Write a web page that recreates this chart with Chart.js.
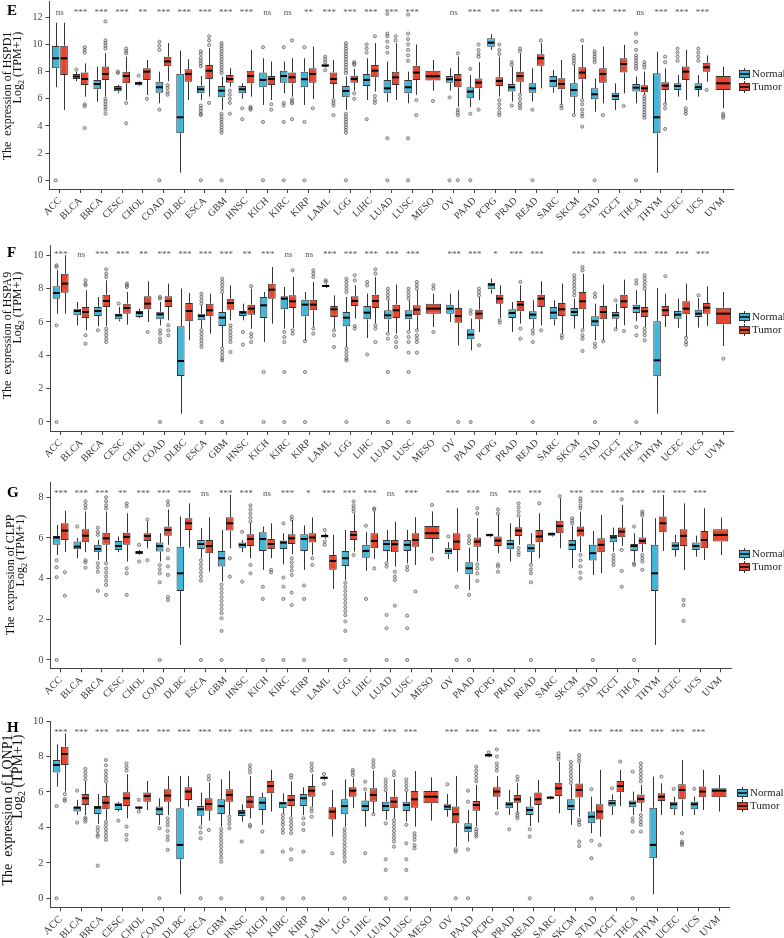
<!DOCTYPE html>
<html>
<head>
<meta charset="utf-8">
<title>HSPD1 / HSPA9 / CLPP / LONP1 expression, normal vs tumor</title>
<script src="https://cdn.jsdelivr.net/npm/chart.js@4.4.0/dist/chart.umd.min.js"></script>
<style>
  body { margin: 0; background: #fff; overflow: hidden; }
  .panel { position: absolute; left: 0; }
  canvas { display: block; }
</style>
</head>
<body>
<div class="panel" style="top:0px"><canvas id="chartE" width="784" height="232"></canvas></div>
<div class="panel" style="top:232px"><canvas id="chartF" width="784" height="233"></canvas></div>
<div class="panel" style="top:465px"><canvas id="chartG" width="784" height="235"></canvas></div>
<div class="panel" style="top:700px"><canvas id="chartH" width="784" height="238"></canvas></div>
<script>
const cancers = ['ACC','BLCA','BRCA','CESC','CHOL','COAD','DLBC','ESCA','GBM','HNSC','KICH','KIRC','KIRP','LAML','LGG','LIHC','LUAD','LUSC','MESO','OV','PAAD','PCPG','PRAD','READ','SARC','SKCM','STAD','TGCT','THCA','THYM','UCEC','UCS','UVM'];

// each box: [min, q1, median, q3, max] in log2(TPM+1); null = no samples
const hspd1Normal = [
  [6.85,8.25,8.98,9.89,11.6],[7.3,7.46,7.64,7.83,8.0],[5.79,6.7,7.09,7.39,8.37],[6.4,6.55,6.75,6.94,7.02],[6.94,7.0,7.14,7.26,7.31],[5.67,6.45,6.85,7.26,8.0],
  [0.56,3.46,4.64,7.85,9.55],[5.91,6.4,6.7,6.97,7.68],[5.18,6.11,6.6,6.94,7.63],[6.0,6.4,6.7,6.94,7.14],[5.55,6.85,7.39,7.93,8.98],[6.4,7.19,7.68,8.07,8.74],
  [5.55,6.85,7.44,8.0,8.98],[8.3,8.37,8.44,8.54,8.6],[5.18,6.11,6.58,6.94,7.63],[5.91,6.94,7.39,7.83,8.98],[5.79,6.4,6.77,7.39,8.74],[5.67,6.4,6.85,7.39,8.0],
  null,[6.6,7.19,7.44,7.68,8.25],[5.4,6.04,6.53,6.85,7.75],[9.6,9.84,10.13,10.45,10.75],[5.8,6.53,6.85,7.09,8.37],[5.8,6.45,6.77,7.14,8.25],
  [6.45,6.85,7.31,7.68,8.12],[4.93,6.16,6.65,7.14,8.5],[5.05,5.96,6.33,6.77,7.5],[5.18,5.91,6.21,6.45,7.14],[5.67,6.53,6.82,7.09,7.63],[0.56,3.46,4.64,7.88,9.47],
  [6.16,6.65,6.94,7.14,7.75],[6.16,6.65,6.85,7.14,7.75],null
];
const hspd1Tumor = [
  [5.18,7.75,8.98,9.91,11.6],[6.16,7.02,7.46,7.93,8.61],[6.16,7.39,7.83,8.37,9.35],[5.91,7.14,7.68,8.0,9.1],[6.28,7.39,8.0,8.25,8.86],[7.3,8.4,8.75,9.1,10.1],
  [5.91,7.26,7.83,8.17,8.91],[6.16,7.46,8.07,8.49,9.72],[6.9,7.19,7.46,7.75,8.25],[6.16,7.14,7.68,8.07,9.6],[5.91,7.02,7.46,7.68,8.74],[6.16,7.14,7.58,7.93,8.98],
  [5.99,7.19,7.83,8.25,9.84],[6.04,7.09,7.46,7.93,8.86],[6.6,7.19,7.46,7.7,8.2],[6.53,7.58,8.07,8.49,10.1],[5.91,7.02,7.58,8.0,10.1],[6.3,7.39,7.93,8.44,10.0],
  [6.6,7.34,7.66,8.07,8.86],[5.42,6.85,7.39,7.83,9.1],[5.9,6.77,7.19,7.5,8.7],[6.16,6.95,7.31,7.58,9.1],[6.4,7.26,7.68,8.0,9.35],[6.77,8.44,8.98,9.28,10.1],
  [5.55,6.7,7.09,7.51,8.86],[6.04,7.44,7.93,8.32,9.96],[5.67,7.19,7.83,8.25,9.84],[6.4,7.93,8.56,8.98,9.96],[6.28,6.48,6.77,7.0,8.0],[5.67,6.65,6.97,7.21,8.25],
  [5.9,7.39,8.0,8.37,9.6],[7.26,8.0,8.32,8.66,9.2],[5.3,6.65,7.14,7.68,8.37]
];
const hspd1NormalOut = [
  [0],[8.15],[],[7.9,8.0],[7.7],[10.2,9.9,9.6,5.2,0],
  [],[9.5,9.3,9.0,8.8,8.6,8.4,5.5,5.3,5.1,4.9,4.8,0],[10.1,9.9,9.7,9.5,9.3,9.1,8.9,8.7,8.5,8.3,8.1,7.9,4.9,4.7,4.5,4.3,4.1,3.9,3.7,3.5,0],[5.3,4.5],[9.8,4.3,0],[9.8,5.7,5.5,4.3,0],
  [9.8,4.3,0],[9.1,8.9,8.7,8.1],[10.1,9.9,9.7,9.5,9.3,9.1,8.9,8.7,8.5,8.3,8.1,7.9,4.9,4.7,4.5,4.3,4.1,3.9,3.7,3.5,0],[10.0,9.7,9.4,4.5],[12.25,10.8,10.6,10.2,9.8,9.4,3.1,0],[12.2,10.8,10.4,10.0,9.6,9.2,8.8,3.1,0],
  [],[6.1,0],[8.2,4.9,0],[],[8.7,8.5,5.5],[5.2,0],
  [],[9.2,9.0,8.8,8.6,4.8],[9.5,9.3,9.1,8.9,8.7,0],[],[10.8,10.2,9.6,9.2,9.0,8.8,8.6,8.4,8.2,0],[],
  [9.7,9.4,9.1,8.8],[9.7,9.4,9.1,8.8],[]
];
const hspd1TumorOut = [
  [],[9.8,9.6,9.4,5.6,5.45,3.85],[11.7,10.3,10.1,9.9,9.7,6.0,5.8,5.6,5.4,5.2,4.9],[9.7,9.5,9.35,5.7,4.2],[6.0],[7.0,6.8,6.5,6.3],
  [],[10.6,10.3,9.96,5.7],[6.6,6.3,6.0,5.7,4.9],[5.4,5.3,5.2],[5.6,5.2],[10.3,5.96,5.8,5.67,4.5],
  [5.3],[5.9,5.7,5.5,4.8],[8.7,8.6,8.5,6.4,6.0],[10.6,6.2,5.9,5.7],[10.6,10.3],[5.9,4.8],
  [5.84],[9.35,5.2,5.0,4.8,0],[10.0,9.6,9.3,9.1,5.2],[10.0,9.6,9.3,5.9,5.6,5.3,5.0,4.8],[9.7,9.5,6.3,6.0,5.7,5.5,5.3],[10.3],
  [5.5,5.3],[10.3,5.9,5.6,5.2,4.9,4.7,3.95],[4.8],[5.47],[8.7,8.5,8.3,6.2,6.0,5.8,5.6,5.4,5.2,5.0,4.8,4.6],[9.1,8.7,5.6,5.3,3.78],
  [5.3,5.1,4.9],[6.65],[4.9,4.75,4.6]
];
const hspd1Sig = ['ns','***','***','***','**','***','***','***','***','***','ns','ns','**','***','***','***','***','***','','ns','***','**','***','***','','***','***','***','ns','***','***','***',''];

const hspa9Normal = [
  [6.5,7.4,7.74,8.14,9.1],[5.8,6.4,6.66,6.8,7.2],[5.74,6.36,6.66,6.9,7.5],[6.04,6.16,6.4,6.5,6.9],[6.24,6.3,6.54,6.66,6.8],[5.8,6.16,6.46,6.62,7.2],
  [0.5,2.76,3.66,5.74,8.0],[5.6,6.1,6.36,6.5,7.0],[4.5,5.76,6.26,6.6,7.7],[6.1,6.36,6.56,6.66,7.1],[4.8,6.24,7.0,7.5,7.8],[5.6,6.76,7.4,7.54,8.1],
  [4.9,6.34,7.04,7.34,7.8],[8.04,8.1,8.16,8.24,8.3],[4.5,5.74,6.26,6.6,7.5],[5.04,6.16,6.56,6.96,7.7],[5.4,6.16,6.4,6.7,7.3],[5.5,6.16,6.4,6.7,7.3],
  null,[6.0,6.5,6.8,7.04,7.7],[4.3,4.96,5.24,5.56,6.2],[7.7,7.96,8.24,8.36,8.6],[5.4,6.24,6.54,6.76,7.2],[5.6,6.16,6.44,6.64,7.3],
  [5.8,6.16,6.56,6.9,7.3],[5.6,6.36,6.6,6.84,7.4],[4.9,5.74,6.04,6.34,7.1],[5.6,6.2,6.4,6.6,7.1],[6.04,6.54,6.84,7.04,7.9],[0.5,2.74,3.7,6.04,8.04],
  [5.64,6.2,6.44,6.66,7.4],[5.66,6.3,6.5,6.74,7.44],null
];
const hspa9Tumor = [
  [6.5,7.76,8.3,8.9,10.0],[5.5,6.24,6.6,6.9,7.9],[5.76,6.9,7.26,7.64,8.5],[5.84,6.5,6.84,7.1,7.8],[6.0,6.76,7.1,7.54,8.44],[6.1,6.9,7.26,7.54,8.3],
  [4.9,6.04,6.66,7.14,7.74],[5.3,6.34,6.7,7.1,7.7],[6.1,6.74,7.14,7.4,8.2],[5.6,6.44,6.8,7.04,8.0],[5.9,7.4,7.94,8.3,9.3],[5.64,6.84,7.24,7.6,8.7],
  [5.7,6.7,7.04,7.34,8.4],[5.6,6.3,6.76,6.96,7.6],[6.2,6.96,7.26,7.54,8.2],[5.9,6.84,7.26,7.64,8.7],[5.3,6.24,6.7,7.04,8.24],[5.56,6.4,6.74,7.0,7.9],
  [5.7,6.5,6.8,7.1,7.7],[4.6,5.96,6.36,6.84,7.9],[5.4,6.16,6.5,6.74,7.5],[6.24,7.1,7.4,7.64,8.2],[5.9,6.64,7.04,7.26,8.2],[5.8,6.9,7.4,7.64,8.44],
  [5.3,6.36,6.76,7.14,8.3],[5.6,6.76,7.24,7.8,8.9],[4.9,6.16,6.6,6.96,8.24],[5.8,6.84,7.24,7.64,8.54],[5.7,6.3,6.64,6.9,7.9],[5.7,6.36,6.7,6.96,7.7],
  [5.1,6.46,6.8,7.24,8.3],[5.76,6.5,6.86,7.14,8.14],[4.56,5.86,6.5,6.86,7.8]
];
const hspa9NormalOut = [
  [9.4,9.3,5.8,0],[],[5.5],[7.1],[],[7.5,7.4,5.5,5.3,5.0,4.8,0],
  [],[7.7,7.5,7.3,7.1,5.5,5.3,5.1,4.9,4.7,4.5,0],[8.6,8.4,8.2,8.0,7.8,4.4,4.2,4.0,3.8,3.7,0],[5.4,4.64],[3.0,0],[5.4,5.1,4.8,3.0,0],
  [4.85,3.0,0],[8.5,8.4],[8.6,8.4,8.2,8.0,7.8,4.4,4.2,4.0,3.8,3.7,0],[8.4,8.2,4.05],[8.0,7.8,7.6,7.4,5.3,5.0,3.0,0],[8.0,7.8,7.6,7.4,5.4,5.1,4.8,4.16,3.0,0],
  [],[],[6.7,6.5,0],[],[],[5.5,5.3,4.8,0],
  [],[8.8,8.6,8.4,8.2,8.0,7.8,7.6],[7.7,7.5,4.7,4.5,0],[7.3,5.56],[8.5,8.3,5.7,5.2,0],[],
  [],[7.6],[]
];
const hspa9TumorOut = [
  [],[8.5,8.3,8.2,5.2,4.7],[9.16,8.9,8.7,5.6,5.4,5.2,5.0,4.8],[8.3,8.2,8.1],[5.4],[5.8,5.5,5.2],
  [],[],[5.8,5.6,5.4,5.2,5.0,4.8,4.2],[8.15,5.3,5.1,4.8],[],[9.1,5.5,5.3],
  [9.1,8.9,8.7,5.6,5.3],[5.5,5.2,4.5],[8.8,8.5,5.76,5.6],[9.16,8.9,5.8,5.6,4.8],[5.1,4.8,4.5],[8.4,8.2,8.0,5.5,5.2,5.0,4.8,4.16],
  [8.2,8.0,5.4],[0],[8.0,7.8,7.6,4.6],[6.1,5.96],[8.4,5.6,5.0],[5.5],
  [5.2,5.04],[9.3,9.1,5.5,5.2,5.0,4.26],[4.84],[5.46],[8.8,8.6,8.4,8.2,8.0,5.6,5.4,5.2,4.9],[8.74],
  [5.04,4.8,4.64],[],[3.8]
];
const hspa9Sig = ['***','ns','***','***','**','***','***','***','***','**','***','ns','ns','***','***','***','***','***','','***','***','*','***','***','','***','***','***','***','***','***','***',''];

const clppNormal = [
  [5.16,5.66,6.02,6.1,6.64],[5.0,5.44,5.57,5.82,6.0],[4.92,5.3,5.46,5.66,5.9],[5.3,5.41,5.6,5.85,6.07],[5.16,5.2,5.28,5.36,5.41],[4.84,5.33,5.6,5.77,6.23],
  [0.74,3.39,4.26,5.57,7.05],[5.0,5.46,5.7,5.9,6.48],[3.85,4.59,5.0,5.36,6.39],[5.3,5.52,5.66,5.77,5.9],[4.43,5.36,5.95,6.28,6.56],[4.7,5.46,5.77,5.87,6.23],
  [4.43,5.36,5.95,6.18,6.61],[5.95,6.02,6.1,6.15,6.23],[3.93,4.62,5.0,5.36,6.39],[4.38,5.03,5.36,5.66,6.3],[4.84,5.36,5.7,5.9,6.39],[4.75,5.36,5.66,5.9,6.39],
  null,[4.97,5.2,5.36,5.49,5.79],[3.44,4.21,4.51,4.8,5.52],[6.02,6.07,6.15,6.18,6.2],[4.84,5.44,5.7,5.9,6.72],[4.75,5.3,5.49,5.69,6.23],
  [6.07,6.11,6.2,6.26,6.28],[4.51,5.41,5.66,5.9,6.6],[4.18,4.89,5.25,5.66,6.34],[5.33,5.79,6.03,6.15,6.51],[4.84,5.36,5.6,5.7,6.23],[0.74,3.39,4.26,5.66,6.97],
  [5.08,5.41,5.62,5.79,6.15],[5.08,5.41,5.6,5.77,6.11],null
];
const clppTumor = [
  [5.3,5.9,6.36,6.72,7.33],[5.3,5.79,6.11,6.43,7.3],[4.84,5.66,5.98,6.26,7.3],[4.84,5.66,6.05,6.26,7.21],[5.49,5.85,6.1,6.23,6.8],[5.66,6.11,6.39,6.56,7.4],
  [5.52,6.39,6.72,6.97,7.7],[4.34,5.25,5.6,5.9,7.02],[5.49,6.36,6.72,7.02,8.11],[5.0,5.6,5.95,6.18,6.75],[5.0,5.46,5.7,5.95,6.72],[5.2,5.7,5.98,6.18,6.88],
  [5.16,5.77,6.02,6.23,7.0],[3.49,4.43,4.87,5.16,6.15],[5.33,5.9,6.15,6.34,7.2],[4.97,5.49,5.85,6.23,7.3],[4.59,5.3,5.69,5.9,6.8],[4.67,5.57,5.9,6.23,7.02],
  [5.25,5.95,6.23,6.59,7.3],[4.34,5.41,5.82,6.23,7.46],[4.84,5.57,5.82,6.02,6.97],[5.25,5.6,5.87,6.07,7.13],[5.66,6.1,6.36,6.52,7.0],[5.0,5.79,6.07,6.39,7.21],
  [5.49,6.23,6.59,6.85,7.95],[5.3,6.07,6.36,6.56,7.3],[4.26,5.3,5.66,5.98,7.13],[5.6,6.03,6.31,6.51,7.62],[5.3,5.69,5.85,6.02,6.97],[5.36,6.28,6.72,7.05,8.11],
  [4.43,5.6,6.1,6.43,7.7],[4.92,5.49,5.9,6.34,7.46],[5.16,5.82,6.15,6.43,7.0]
];
const clppNormalOut = [
  [4.9,4.56,4.07,0],[6.56],[6.5,6.3,6.15,4.75,4.55,4.34,3.4],[],[5.66,4.84],[4.67,4.45,4.26,3.82,0],
  [],[4.9,4.7,4.5,4.3,4.1,3.9,0],[3.7,3.5,3.3,3.1,2.9,2.7,2.5,2.3,2.05,1.43,0],[6.3,3.85],[3.6,3.0,0],[6.72,4.05,3.6,3.0,0],
  [3.66,3.0,0],[6.39,5.82,5.66],[3.8,3.6,3.4,3.2,3.0,2.8,2.6,2.4,2.2,1.9,1.43,0],[6.6,3.0],[4.75,4.59,2.21,1.56,0],[4.59,4.43,2.18,1.56,0],
  [],[6.07],[6.1,5.9,5.74,3.2,0],[],[],[4.67,4.45,4.26,3.82,0],
  [],[6.97,6.85,6.72],[0],[5.16,5.0,4.84,4.67],[6.56,4.75,4.67,0],[],
  [],[],[]
];
const clppTumorOut = [
  [4.31,3.16],[7.8,7.62,7.46,4.9,4.8,4.54],[8.0,7.8,7.6,7.45,4.75,4.5,4.3,4.1,3.9,3.69,3.2],[7.7,7.55,4.5,4.26,3.2],[6.9,4.9],[7.8,7.62,5.41,5.0,4.6,4.18,3.1,2.95],
  [],[],[5.0,4.1],[7.6,7.4,7.2,7.0,6.8,4.67,4.26],[4.43,4.31],[7.05,6.9,5.0,4.8,4.6,4.4,4.18,3.31,2.7],
  [5.0,4.67],[],[7.8,7.6,7.45,7.3,5.16],[7.46,7.38,4.5],[4.34,4.1,3.93,2.67],[3.36],
  [7.62,4.97],[3.6,0],[7.46,7.21,4.7,4.5,4.26,3.89],[7.4,7.2,4.7,4.59,4.34],[7.7,7.5,7.3,7.1,5.5,5.3,5.16],[7.7],
  [8.05],[7.95,7.8,7.6,7.46,5.16,4.9,4.6,4.3,4.02],[],[7.9,5.41,4.38,3.6],[7.3,7.2,7.1,5.16,5.0,4.84,4.43],[],
  [2.95,2.7,1.92],[],[]
];
const clppSig = ['***','***','***','**','***','***','***','ns','***','***','ns','***','*','***','***','***','ns','***','','***','***','ns','***','***','','***','***','***','***','***','***','***',''];

const lonp1Normal = [
  [6.3,7.09,7.52,7.8,8.68],[4.7,4.89,5.11,5.17,5.55],[4.19,4.76,5.11,5.2,5.88],[4.89,4.98,5.26,5.36,5.45],[4.98,5.06,5.11,5.17,5.2],[4.14,4.7,5.02,5.17,5.64],
  [0.23,2.2,3.01,5.08,6.9],[4.14,4.66,5.02,5.2,5.96],[4.04,4.76,5.2,5.58,6.71],[4.32,4.64,4.83,4.98,5.3],[4.14,4.98,5.39,5.7,5.96],[4.79,5.08,5.36,5.45,5.92],
  [4.7,5.2,5.64,5.88,6.26],[6.64,6.71,6.8,6.86,6.9],[4.04,4.74,5.2,5.58,6.71],[4.04,4.92,5.2,5.51,6.0],[4.42,4.92,5.2,5.45,6.0],[4.32,4.92,5.26,5.45,6.0],
  null,[4.6,4.98,5.17,5.3,5.88],[3.2,3.72,3.98,4.23,4.98],[7.95,7.99,8.08,8.14,8.18],[4.7,5.08,5.3,5.45,6.1],[4.08,4.7,4.98,5.17,5.73],
  [5.58,5.62,5.68,5.73,5.76],[4.14,4.98,5.2,5.58,6.4],[3.67,4.23,4.6,4.89,5.73],[4.7,5.17,5.36,5.55,5.86],[4.7,5.13,5.36,5.51,6.02],[0.23,2.26,3.01,5.11,6.86],
  [4.7,5.02,5.3,5.45,5.73],[4.7,5.02,5.3,5.45,5.73],null
];
const lonp1Tumor = [
  [6.02,7.52,8.14,8.55,9.3],[4.7,5.26,5.64,5.88,6.6],[4.42,5.02,5.39,5.77,6.48],[4.51,5.2,5.64,5.98,7.0],[4.98,5.45,5.77,5.96,6.62],[4.7,5.45,5.79,6.15,6.9],
  [5.17,5.55,6.02,6.26,6.9],[4.38,4.94,5.32,5.64,6.52],[4.7,5.45,5.83,6.15,7.18],[4.51,5.08,5.45,5.77,6.9],[4.89,5.92,6.33,6.62,7.24],[4.6,5.2,5.55,5.83,6.6],
  [5.17,5.73,6.07,6.33,7.0],[3.48,4.45,4.89,5.13,6.11],[5.08,5.73,6.07,6.26,6.8],[4.79,5.45,5.83,6.2,7.2],[4.51,5.08,5.45,5.73,6.71],[4.04,5.11,5.58,6.05,7.18],
  [4.38,5.36,5.73,6.05,6.82],[2.91,4.23,4.74,5.17,6.9],[4.04,4.94,5.26,5.49,6.4],[5.02,5.73,6.02,6.26,6.9],[4.83,5.39,5.58,5.83,6.5],[4.27,5.26,5.58,5.96,6.67],
  [4.79,5.77,6.2,6.52,7.7],[4.6,5.68,6.11,6.48,7.6],[3.48,4.45,4.89,5.3,7.24],[5.2,5.98,6.33,6.62,7.24],[4.89,5.39,5.6,5.86,6.4],[4.7,5.49,5.73,5.92,6.48],
  [4.64,5.58,6.11,6.43,7.8],[4.98,5.7,6.02,6.3,7.24],[4.89,5.7,6.07,6.2,6.95]
];
const lonp1NormalOut = [
  [5.2,0],[6.07,4.27],[4.0,3.8,3.6,3.48,1.84],[4.38],[5.55,4.89],[3.95,0],
  [],[4.0,3.7,3.38,0],[3.9,3.7,3.5,3.3,3.1,2.9,2.7,2.5,2.3,2.07,0],[3.2],[3.76,2.63,0],[4.7,4.5,4.3,4.14,3.9,3.7,2.63,0],
  [4.51,4.2,3.85,2.63,0],[7.01,6.45],[3.9,3.7,3.5,3.3,3.1,2.9,2.7,2.5,2.3,2.07,0],[6.58,6.15,2.54],[6.7,6.5,6.3,6.1,4.23,2.2,1.6,0],[6.7,6.5,6.3,6.1,4.14,3.1,2.2,1.6,0],
  [],[6.43],[6.07,5.45,2.76,0],[8.23],[3.89],[3.89,3.48,0],
  [],[7.7,7.5,7.3,7.1,6.9,6.7,6.5],[6.15,3.25,2.26,0],[6.2],[7.14,4.51,4.32,3.76,0],[],
  [6.17],[6.17],[]
];
const lonp1TumorOut = [
  [5.88,5.6,5.49],[7.3,7.1,6.9,6.7,4.55,4.45,4.32],[7.8,7.5,7.2,7.0,6.8,6.6,4.3,4.1,3.9,3.7,3.5,3.3],[7.6,7.4,7.2,4.04,3.57,3.3],[],[4.5,4.3,4.1,3.8,3.5,3.29,2.73],
  [],[6.9,6.71,3.85],[4.6,4.4,4.2,3.95],[7.5,7.3,7.1,4.14,4.04],[],[6.95,6.8,4.5,4.3,4.1,3.9,3.67,2.76,2.2],
  [7.6,7.4,7.2,5.08,4.9,4.6],[2.54],[7.24,7.1,6.95],[7.8,7.6,7.4,4.74],[7.14,6.95,4.4,4.2,4.0,3.8,3.6,3.4,3.2,2.91],[3.67,3.5,3.3,3.0,2.82],
  [],[2.76,2.63,0],[7.42,7.2,7.0,6.8,6.6,3.9,3.75,3.6,3.48],[8.4,8.0,7.6,7.4,7.2,4.79],[6.86,6.67,4.79,4.65,4.51],[],
  [8.18,8.0,7.85],[8.08,7.9,7.71,4.42,4.3,4.14,3.2,2.95],[3.0],[7.71],[7.61,7.4,7.2,7.0,6.8,6.6,4.7,4.5,4.3,4.14,3.76],[6.86],
  [3.67,3.2,3.1,3.0],[],[]
];
const lonp1Sig = ['***','***','***','***','***','***','***','***','***','***','***','***','***','***','***','***','***','***','','***','***','**','***','***','','***','***','***','***','***','***','***',''];

const NORMAL_COLOR = '#42B6D8';
const TUMOR_COLOR = '#E8452C';
const SERIF = '"Liberation Serif", "Times New Roman", serif';

// whiskers under the boxes, medians and outlier dots on top
function eachBox(chart, fn) {
  const y = chart.scales.y;
  chart.data.datasets.forEach((ds, di) => {
    const meta = chart.getDatasetMeta(di);
    ds.stats.forEach((s, i) => {
      if (!s) return;
      const bar = meta.data[i];
      fn(bar, s, ds.outliers[i] || [], y);
    });
  });
}

const boxParts = {
  id: 'boxParts',
  beforeDatasetsDraw(chart) {
    const ctx = chart.ctx;
    ctx.save();
    ctx.strokeStyle = '#333';
    ctx.lineWidth = 1;
    eachBox(chart, (bar, s, out, y) => {
      const x = Math.round(bar.x) + 0.5;
      ctx.beginPath();
      ctx.moveTo(x, y.getPixelForValue(s[4]));
      ctx.lineTo(x, y.getPixelForValue(s[3]));
      ctx.moveTo(x, y.getPixelForValue(s[1]));
      ctx.lineTo(x, y.getPixelForValue(s[0]));
      ctx.stroke();
    });
    ctx.restore();
  },
  afterDatasetsDraw(chart) {
    const ctx = chart.ctx;
    ctx.save();
    eachBox(chart, (bar, s, out, y) => {
      const half = bar.width / 2;
      ctx.strokeStyle = '#000';
      ctx.lineWidth = 2;
      ctx.beginPath();
      const ym = y.getPixelForValue(s[2]);
      ctx.moveTo(bar.x - half + 0.5, ym);
      ctx.lineTo(bar.x + half - 0.5, ym);
      ctx.stroke();
      ctx.lineWidth = 0.8;
      ctx.strokeStyle = 'rgba(60,60,60,0.7)';
      ctx.fillStyle = 'rgba(140,140,140,0.35)';
      out.forEach(v => {
        ctx.beginPath();
        ctx.arc(bar.x, y.getPixelForValue(v), 1.6, 0, Math.PI * 2);
        ctx.fill();
        ctx.stroke();
      });
    });
    ctx.restore();
  }
};

const sigMarks = {
  id: 'sigMarks',
  afterDraw(chart, args, o) {
    const {ctx, chartArea} = chart;
    const x = chart.scales.x;
    ctx.save();
    ctx.font = '9px ' + SERIF;
    ctx.fillStyle = '#555';
    ctx.textAlign = 'center';
    ctx.textBaseline = 'alphabetic';
    o.labels.forEach((t, i) => {
      if (t) ctx.fillText(t, x.getPixelForTick(i), chartArea.top + o.offset);
    });
    ctx.restore();
  }
};

// panel letter and the two-line y title; both title lines end at the same top point
const panelText = {
  id: 'panelText',
  afterDraw(chart, args, o) {
    const ctx = chart.ctx;
    ctx.save();
    ctx.fillStyle = '#000';
    ctx.font = 'bold 15px ' + SERIF;
    ctx.textAlign = 'left';
    ctx.textBaseline = 'alphabetic';
    ctx.fillText(o.letter, 7, o.letterY);

    const big = o.size + 'px ' + SERIF;
    const small = Math.round(o.size * 0.7) + 'px ' + SERIF;
    const line1 = 'The  expression of ' + o.gene;
    ctx.font = big;
    const w1 = ctx.measureText(line1).width;
    const end = o.c1 - w1 / 2;   // screen y where both lines end

    ctx.fillStyle = '#111';
    ctx.translate(o.x1, end);
    ctx.rotate(-Math.PI / 2);
    ctx.textAlign = 'right';
    ctx.textBaseline = 'middle';
    ctx.fillText(line1, 0, 0);
    ctx.restore();

    ctx.save();
    ctx.fillStyle = '#111';
    ctx.translate(o.x2, end);
    ctx.rotate(-Math.PI / 2);
    ctx.textBaseline = 'middle';
    ctx.textAlign = 'left';
    ctx.font = big;
    const wLog = ctx.measureText('Log').width;
    const wRest = ctx.measureText(' (TPM+1)').width;
    ctx.font = small;
    const wSub = ctx.measureText('2').width;
    let px = -(wLog + wSub + wRest);
    ctx.font = big;
    ctx.fillText('Log', px, 0);
    px += wLog;
    ctx.font = small;
    ctx.fillText('2', px, o.size * 0.3);
    px += wSub;
    ctx.font = big;
    ctx.fillText(' (TPM+1)', px, 0);
    ctx.restore();
  }
};

const boxLegend = {
  id: 'boxLegend',
  afterDraw(chart, args, o) {
    const {ctx, chartArea} = chart;
    const mid = (chartArea.top + chartArea.bottom) / 2 - 15;
    ctx.save();
    chart.data.datasets.forEach((ds, i) => {
      const yy = Math.round(mid - 6 + i * 12.5);
      const cx = o.x + 5.5;
      ctx.strokeStyle = '#333';
      ctx.lineWidth = 1;
      ctx.beginPath();
      ctx.moveTo(cx, yy - 6);
      ctx.lineTo(cx, yy + 6);
      ctx.stroke();
      ctx.fillStyle = ds.backgroundColor;
      ctx.fillRect(o.x, yy - 4, 11, 8);
      ctx.strokeRect(o.x + 0.5, yy - 3.5, 10, 7);
      ctx.strokeStyle = '#000';
      ctx.lineWidth = 1.5;
      ctx.beginPath();
      ctx.moveTo(o.x + 1, yy);
      ctx.lineTo(o.x + 10, yy);
      ctx.stroke();
      ctx.fillStyle = '#222';
      ctx.font = o.size + 'px ' + SERIF;
      ctx.textAlign = 'left';
      ctx.textBaseline = 'middle';
      ctx.fillText(ds.label, o.x + 13, yy);
    });
    ctx.restore();
  }
};

const panels = [
  {id: 'chartE', gene: 'HSPD1', letter: 'E', normal: hspd1Normal, tumor: hspd1Tumor, normalOut: hspd1NormalOut, tumorOut: hspd1TumorOut, sig: hspd1Sig,
   yTicks: [0, 2, 4, 6, 8, 10, 12], yMin: -0.64, yMax: 13.2, area: {top: 1, bottom: 189, left: 49.5, right: 733.5},
   letterY: 15, title: {x1: 8, c1: 96, x2: 18, size: 12}, legendX: 739, sigOffset: 14, tickSize: 10},
  {id: 'chartF', gene: 'HSPA9', letter: 'F', normal: hspa9Normal, tumor: hspa9Tumor, normalOut: hspa9NormalOut, tumorOut: hspa9TumorOut, sig: hspa9Sig,
   yTicks: [0, 2, 4, 6, 8, 10], yMin: -0.54, yMax: 10.6, area: {top: 13.3, bottom: 199, left: 50.3, right: 733.7},
   letterY: 25, title: {x1: 8, c1: 103.5, x2: 18, size: 12}, legendX: 739, sigOffset: 12, tickSize: 10},
  {id: 'chartG', gene: 'CLPP', letter: 'G', normal: clppNormal, tumor: clppTumor, normalOut: clppNormalOut, tumorOut: clppTumorOut, sig: clppSig,
   yTicks: [0, 2, 4, 6, 8], yMin: -0.41, yMax: 8.75, area: {top: 17, bottom: 203.3, left: 50.4, right: 731},
   letterY: 32, title: {x1: 11, c1: 110, x2: 21, size: 12}, legendX: 739, sigOffset: 14, tickSize: 10},
  {id: 'chartH', gene: 'LONP1', letter: 'H', normal: lonp1Normal, tumor: lonp1Tumor, normalOut: lonp1NormalOut, tumorOut: lonp1TumorOut, sig: lonp1Sig,
   yTicks: [0, 2, 4, 6, 8, 10], yMin: -0.51, yMax: 10, area: {top: 21, bottom: 207.3, left: 50.4, right: 729.3},
   letterY: 32, title: {x1: 8, c1: 110, x2: 18.5, size: 14}, legendX: 737, sigOffset: 14, tickSize: 10.5}
];

function makeChart(p) {
  const canvas = document.getElementById(p.id);
  const H = canvas.height;
  const axisGrid = {drawOnChartArea: false, drawTicks: true, tickLength: 4, color: '#444', offset: false};
  new Chart(canvas, {
    type: 'bar',
    data: {
      labels: cancers,
      datasets: [
        {label: 'Normal', data: p.normal.map(s => s ? [s[1], s[3]] : null), stats: p.normal, outliers: p.normalOut, backgroundColor: NORMAL_COLOR},
        {label: 'Tumor', data: p.tumor.map(s => s ? [s[1], s[3]] : null), stats: p.tumor, outliers: p.tumorOut, backgroundColor: TUMOR_COLOR}
      ]
    },
    options: {
      responsive: false,
      animation: false,
      events: [],
      layout: {padding: {top: p.area.top, right: 784 - p.area.right, left: 0, bottom: 0}},
      datasets: {
        bar: {categoryPercentage: 0.8, barPercentage: 0.92, skipNull: true, borderWidth: 1, borderColor: '#333', borderSkipped: false}
      },
      scales: {
        x: {
          grid: axisGrid,
          border: {display: true, color: '#444', width: 1},
          ticks: {autoSkip: false, minRotation: 45, maxRotation: 45, padding: 2, color: '#333', font: {family: SERIF, size: p.tickSize}},
          afterFit: s => { s.height = H - p.area.bottom; s.paddingLeft = 0; s.paddingRight = 0; }
        },
        y: {
          min: p.yMin,
          max: p.yMax,
          grid: axisGrid,
          border: {display: true, color: '#444', width: 1},
          ticks: {padding: 3, color: '#444', font: {family: SERIF, size: p.tickSize}},
          afterBuildTicks: s => { s.ticks = p.yTicks.map(v => ({value: v})); },
          afterFit: s => { s.width = p.area.left; s.paddingTop = 0; s.paddingBottom = 0; }
        }
      },
      plugins: {
        legend: {display: false},
        tooltip: {enabled: false},
        sigMarks: {labels: p.sig, offset: p.sigOffset},
        panelText: Object.assign({letter: p.letter, letterY: p.letterY, gene: p.gene}, p.title),
        boxLegend: {x: p.legendX, size: 11}
      }
    },
    plugins: [boxParts, sigMarks, panelText, boxLegend]
  });
}

panels.forEach(makeChart);
</script>
</body>
</html>
